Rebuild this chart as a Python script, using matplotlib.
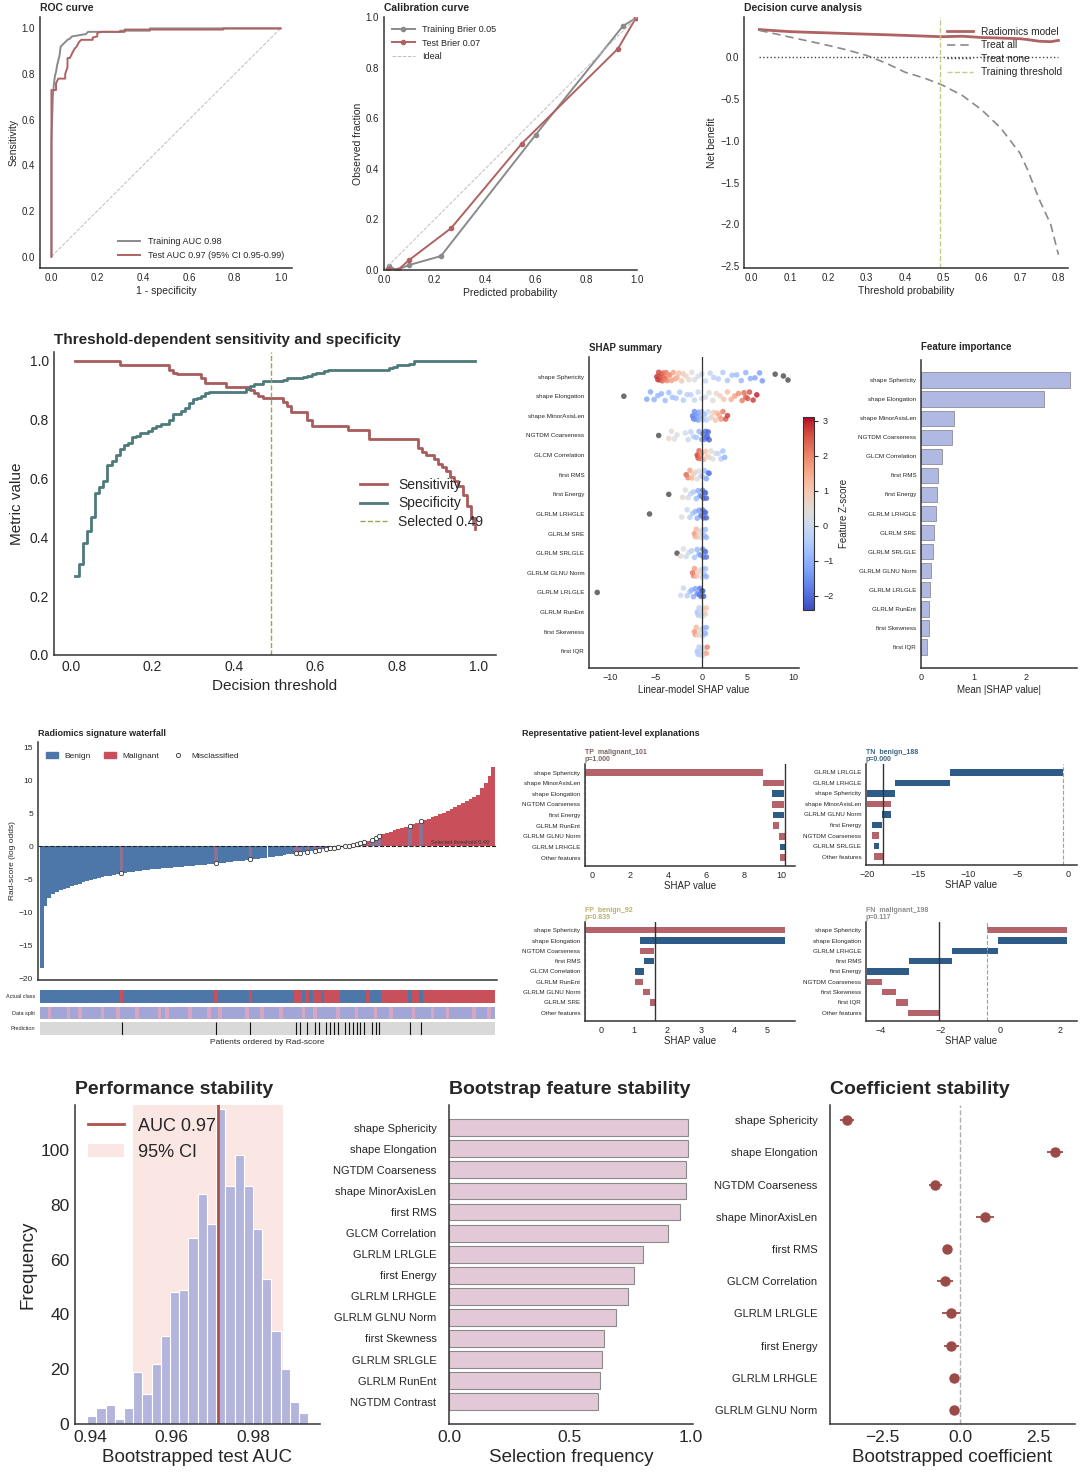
import numpy as np
import matplotlib
matplotlib.use("Agg")
import matplotlib.pyplot as plt
from matplotlib.colors import ListedColormap, Normalize
from matplotlib.patches import Patch
from matplotlib.lines import Line2D
from matplotlib.cm import ScalarMappable

plt.rcParams['font.family'] = ['Liberation Sans', 'DejaVu Sans']
plt.rcParams['axes.spines.top'] = False
plt.rcParams['axes.spines.right'] = False
plt.rcParams['xtick.major.size'] = 0
plt.rcParams['ytick.major.size'] = 0
plt.rcParams['axes.edgecolor'] = '#333333'
plt.rcParams['axes.linewidth'] = 1.1
plt.rcParams['text.color'] = '#262626'
plt.rcParams['xtick.color'] = '#262626'
plt.rcParams['ytick.color'] = '#262626'
plt.rcParams['axes.labelcolor'] = '#262626'

RED = "#b06262"
GREY = "#8a8a8a"
TEAL = "#4e7a7a"
WF_BLUE = "#4d77a8"
WF_RED = "#c9505a"
WF_MIX = "#8a7396"
PB_RED = "#b4636b"
PB_BLUE = "#2f5b88"

# ---------------- data ----------------
# ROC
roc_train_fpr = [0, 0, 0.003, 0.006, 0.01, 0.015, 0.02, 0.025, 0.03, 0.035, 0.04, 0.05, 0.06, 0.07, 0.08, 0.09, 0.12, 0.15, 0.16, 0.30, 0.30, 0.43, 0.43, 1.0]
roc_train_tpr = [0, 0.50, 0.60, 0.70, 0.75, 0.79, 0.81, 0.84, 0.86, 0.88, 0.92, 0.93, 0.94, 0.95, 0.955, 0.965, 0.97, 0.975, 0.985, 0.985, 0.99, 0.99, 1.0, 1.0]
roc_test_fpr = [0, 0, 0.02, 0.02, 0.03, 0.06, 0.06, 0.07, 0.07, 0.08, 0.09, 0.10, 0.11, 0.12, 0.13, 0.18, 0.18, 0.20, 0.20, 0.22, 0.32, 0.32, 0.75, 0.75, 1.0]
roc_test_tpr = [0, 0.73, 0.73, 0.76, 0.78, 0.78, 0.80, 0.83, 0.87, 0.87, 0.89, 0.91, 0.92, 0.94, 0.95, 0.95, 0.96, 0.965, 0.98, 0.985, 0.985, 0.995, 0.995, 1.0, 1.0]

# calibration
cal_train_pred = [0.02, 0.05, 0.10, 0.225, 0.60, 0.945, 0.995]
cal_train_obs = [0.015, 0.0, 0.02, 0.055, 0.535, 0.965, 0.995]
cal_test_pred = [0.015, 0.055, 0.10, 0.265, 0.545, 0.925, 0.995]
cal_test_obs = [0.005, 0.0, 0.04, 0.165, 0.50, 0.875, 0.995]

# decision curve
dca_pt = [0.02, 0.05, 0.10, 0.15, 0.20, 0.25, 0.30, 0.35, 0.40, 0.45, 0.49, 0.50, 0.55, 0.60, 0.65, 0.70, 0.72, 0.75, 0.78, 0.80]
dca_model = [0.33, 0.32, 0.305, 0.297, 0.29, 0.282, 0.275, 0.268, 0.26, 0.252, 0.245, 0.245, 0.25, 0.235, 0.228, 0.22, 0.21, 0.19, 0.185, 0.20]
dca_all = [0.32, 0.29, 0.24, 0.19, 0.14, 0.085, 0.02, -0.07, -0.18, -0.25, -0.32, -0.34, -0.46, -0.63, -0.85, -1.15, -1.35, -1.70, -2.00, -2.36]
train_threshold = 0.49

# threshold sweep
thresholds = np.arange(1, 100) / 100
sensitivity = ([1.0] * 11 + [0.985] * 12 + [0.97, 0.96] + [0.955] * 6 + [0.94] + [0.925] * 5 + [0.91] * 6
               + [0.90, 0.89, 0.88] + [0.875] * 5 + [0.86, 0.845] + [0.825] * 4 + [0.80] + [0.78] * 9
               + [0.765] * 5 + [0.735] * 12
               + [0.705, 0.69, 0.68, 0.68, 0.665, 0.65, 0.64, 0.625, 0.605, 0.59, 0.575, 0.545, 0.505, 0.465, 0.43])
specificity = ([0.27, 0.31, 0.38, 0.42, 0.47, 0.55, 0.57, 0.59, 0.645, 0.66, 0.68, 0.70, 0.715, 0.72, 0.74, 0.745,
                0.755, 0.755, 0.76, 0.77, 0.78, 0.785, 0.785, 0.80, 0.82, 0.82, 0.83, 0.84, 0.855, 0.87, 0.875, 0.88, 0.89]
               + [0.895] * 9 + [0.905, 0.915, 0.92, 0.92] + [0.93] * 5 + [0.935] + [0.94] * 4
               + [0.945, 0.95, 0.955, 0.96, 0.96, 0.965] + [0.97] * 15 + [0.975, 0.98] + [0.985] * 3 + [0.99] + [1.0] * 16)

# SHAP summary (linear model)
shap_features = ["shape Sphericity", "shape Elongation", "shape MinorAxisLen", "NGTDM Coarseness",
                 "GLCM Correlation", "first RMS", "first Energy", "GLRLM LRHGLE", "GLRLM SRE",
                 "GLRLM SRLGLE", "GLRLM GLNU Norm", "GLRLM LRLGLE", "GLRLM RunEnt", "first Skewness", "first IQR"]
shap_values = [
    [-4.9, -4.8, -4.7, -4.6, -4.5, -4.4, -4.3, -4.2, -4.1, -4.0, -3.9, -3.8, -3.6, -3.5, -3.3, -3.1, -2.9, -2.7,
     -2.5, -2.2, -2.0, -1.7, -1.4, -1.1, -0.8, -0.4, 0.0, 0.4, 0.9, 1.3, 1.8, 2.3, 2.8, 3.3, 3.8, 4.3, 4.8,
     5.3, 5.8, 6.3, 6.6, 8.0, 8.9, 9.4],
    [-8.5, -6.0, -5.6, -5.2, -4.8, -4.4, -4.0, -3.6, -3.2, -2.8, -2.4, -2.0, -1.6, -1.2, -0.8, -0.4, 0.0, 0.4,
     0.8, 1.2, 1.6, 2.0, 2.4, 2.8, 3.2, 3.6, 4.0, 4.4, 4.6, 4.8, 5.0, 5.2, 5.6, 6.0],
    [-1.0, -0.9, -0.8, -0.7, -0.6, -0.5, -0.4, -0.3, -0.2, -0.1, 0.0, 0.1, 0.2, 0.3, 0.5, 0.7, 0.9, 1.1, 1.3,
     1.5, 1.7, 1.9, 2.1, 2.3, 2.6, 2.8],
    [-4.7, -3.6, -3.3, -3.0, -2.7, -1.8, -1.5, -1.2, -0.9, -0.6, -0.3, 0.0, 0.1, 0.2, 0.3, 0.4, 0.5, 0.6, 0.7, 0.8],
    [-0.5, -0.4, -0.3, -0.2, -0.1, 0.0, 0.2, 0.4, 0.6, 0.8, 1.0, 1.2, 1.5, 1.8, 2.1, 2.3, 2.5],
    [-1.7, -1.5, -1.3, -1.1, -0.9, -0.7, -0.5, -0.3, -0.1, 0.1, 0.3, 0.5, 0.7, 0.8],
    [-3.6, -2.1, -1.8, -1.5, -1.2, -0.9, -0.6, -0.4, -0.2, 0.0, 0.1, 0.2, 0.3, 0.4, 0.5],
    [-5.7, -2.2, -1.6, -1.3, -1.0, -0.7, -0.5, -0.3, -0.1, 0.0, 0.1, 0.2, 0.3, 0.4, 0.5],
    [-0.8, -0.7, -0.6, -0.5, -0.3, -0.1, 0.0, 0.1, 0.2, 0.3, 0.4, 0.5],
    [-2.7, -2.3, -2.0, -1.7, -1.4, -1.1, -0.8, -0.5, -0.3, -0.1, 0.1, 0.2, 0.3, 0.4, 0.5],
    [-1.0, -0.9, -0.8, -0.6, -0.4, -0.2, 0.0, 0.1, 0.2, 0.3, 0.4, 0.5],
    [-11.4, -2.3, -2.0, -1.6, -1.3, -1.1, -0.9, -0.7, -0.5, -0.3, -0.2, -0.1, 0.0, 0.1, 0.2],
    [-0.5, -0.4, -0.3, -0.2, -0.1, 0.0, 0.1, 0.2, 0.3, 0.4, 0.5],
    [-0.8, -0.7, -0.6, -0.4, -0.2, 0.0, 0.1, 0.2, 0.3, 0.4, 0.5],
    [-0.5, -0.4, -0.3, -0.2, -0.1, 0.0, 0.1, 0.2, 0.3, 0.5, 0.6],
]
# z-scores outside the colour range (the isolated outliers) are shown in dark grey
shap_zscores = [
    [2.9, 2.8, 2.7, 2.7, 2.6, 2.5, 2.4, 2.3, 2.3, 2.2, 2.1, 2.0, 1.9, 1.8, 1.7, 1.6, 1.5, 1.4, 1.2, 1.0, 0.9,
     0.7, 0.5, 0.35, 0.2, 0.1, 0.0, -0.1, -0.2, -0.3, -0.4, -0.5, -0.6, -0.7, -0.8, -0.9, -1.0, -1.1, -1.2,
     -1.3, -1.4, -2.9, -3.0, -3.1],
    [-3.0, -1.2, -1.1, -1.0, -0.95, -0.9, -0.8, -0.75, -0.7, -0.6, -0.5, -0.45, -0.35, -0.3, -0.2, -0.1, 0.0,
     0.15, 0.3, 0.45, 0.6, 0.8, 1.0, 1.2, 1.4, 1.7, 1.9, 2.1, 2.3, 2.4, 2.5, 2.6, 2.8, 3.0],
    [-1.8, -1.7, -1.6, -1.5, -1.4, -1.3, -1.2, -1.1, -1.0, -0.9, -0.8, -0.7, -0.6, -0.5, -0.3, 0.0, 0.3, 0.6,
     0.9, 1.1, 1.3, 1.5, 1.8, 2.1, 2.5, 2.8],
    [3.5, 0.6, 0.5, 0.3, 0.2, 0.1, 0.0, -0.2, -0.4, -0.6, -0.9, -1.2, -1.4, -1.6, -1.7, -1.8, -1.9, -2.0, -2.1, -2.2],
    [2.8, 2.6, 2.4, 2.2, 2.0, 1.8, 1.4, 1.1, 0.9, 0.7, 0.5, 0.3, 0.1, -0.1, -0.4, -0.6, -1.0],
    [2.4, 2.0, 1.6, 1.3, 1.0, 0.7, 0.4, 0.2, -0.1, -0.4, -0.8, -1.2, -1.6, -1.8],
    [3.5, 0.6, 0.3, 0.1, -0.2, -0.5, -0.8, -1.1, -1.3, -1.6, -1.7, -1.8, -1.9, -2.0, -2.1],
    [3.6, 0.4, 0.0, -0.3, -0.6, -0.9, -1.1, -1.3, -1.5, -1.6, -1.7, -1.8, -1.9, -2.0, -2.1],
    [1.8, 1.6, 1.3, 1.0, 0.6, 0.2, 0.0, -0.2, -0.4, -0.6, -0.8, -1.0],
    [3.4, 0.5, 0.3, 0.1, -0.1, -0.3, -0.6, -0.9, -1.1, -1.3, -1.5, -1.6, -1.7, -1.8, -1.9],
    [2.2, 2.0, 1.7, 1.2, 0.8, 0.4, 0.0, -0.2, -0.4, -0.6, -0.8, -1.0],
    [3.8, 0.0, -0.1, -0.4, -0.7, -0.9, -1.1, -1.3, -1.5, -1.7, -1.8, -1.9, -2.0, -2.1, -2.2],
    [-0.6, -0.5, -0.3, -0.2, 0.0, 0.1, 0.3, 0.5, 0.6, 0.8, 1.0],
    [1.8, 1.6, 1.3, 0.8, 0.4, 0.0, -0.2, -0.4, -0.6, -0.8, -1.0],
    [-0.6, -0.5, -0.4, -0.3, -0.2, -0.1, 0.0, 0.1, 0.2, 1.5, 2.0],
]
mean_abs_shap = [2.84, 2.35, 0.63, 0.60, 0.41, 0.33, 0.31, 0.28, 0.24, 0.22, 0.19, 0.18, 0.16, 0.15, 0.12]

# waterfall of Rad-score (sorted)
rad_scores = [
    -18.5, -9.0, -7.8, -7.2, -6.9, -6.7, -6.5, -6.3, -6.1, -5.9,
    -5.7, -5.5, -5.35, -5.2, -5.05, -4.9, -4.75, -4.6, -4.5, -4.35,
    -4.2, -4.1, -4.0, -3.9, -3.85, -3.75, -3.7, -3.6, -3.55, -3.5,
    -3.45, -3.4, -3.35, -3.3, -3.25, -3.2, -3.15, -3.1, -3.05, -3.0,
    -2.95, -2.9, -2.85, -2.8, -2.75, -2.7, -2.6, -2.55, -2.5, -2.45,
    -2.4, -2.3, -2.25, -2.2, -2.1, -2.0, -1.95, -1.9, -1.8, -1.75,
    -1.7, -1.6, -1.5, -1.45, -1.35, -1.25, -1.2, -1.1, -1.0, -0.95,
    -0.85, -0.75, -0.7, -0.6, -0.5, -0.45, -0.35, -0.3, -0.2, -0.1,
    0.0, 0.1, 0.2, 0.3, 0.45, 0.6, 0.8, 1.0, 1.3, 1.6,
    1.8, 2.0, 2.2, 2.4, 2.6, 2.8, 2.95, 3.1, 3.3, 3.5,
    3.75, 3.95, 4.15, 4.35, 4.6, 4.85, 5.1, 5.35, 5.6, 5.9,
    6.2, 6.5, 6.8, 7.1, 7.4, 7.8, 8.8, 9.6, 10.6, 12.0]
actual_class = ("BBBBBBBBBBBBBBBBBBBB" "BMBBBBBBBBBBBBBBBBBB" "BBBBBBMBBBBBBBBMBBBB"
                "BBBBBBBMMBMBMMBMMMMB" "BBBBBBMBBBMMMMMMMBMM" "BMMMMMMMMMMMMMMMMMMM")
data_split = ("TTVTTTTVTTVTTTTTVTTT" "VTTTTVTTTTTVTVTTTTTV" "TTTTVTTVTTTTTTVTTTVT"
              "TTTVTTTTTVTTVTTTTTVT" "TTTVTTTTVTTTVTTTTTVT" "TTTVTTTVTTTTTTVTTTVT")
selected_threshold = 0.49

# patient-level explanations: (tag, color, features, contributions, base value)
patients = [
    ("TP  malignant_101\np=1.000", "#7d6262",
     ["shape Sphericity", "shape MinorAxisLen", "shape Elongation", "NGTDM Coarseness", "first Energy",
      "GLRLM RunEnt", "GLRLM GLNU Norm", "GLRLM LRHGLE", "Other features"],
     [9.43, 1.1, -0.62, 0.62, -0.58, 0.3, 0.3, -0.25, 0.25], -0.4),
    ("TN  benign_188\np=0.000", "#3d6680",
     ["GLRLM LRLGLE", "GLRLM LRHGLE", "shape Sphericity", "shape MinorAxisLen", "GLRLM GLNU Norm",
      "first Energy", "NGTDM Coarseness", "GLRLM SRLGLE", "Other features"],
     [-11.28, -5.4, -2.86, 2.44, -0.91, -0.97, 0.63, -0.5, 0.93], -0.55),
    ("FP  benign_92\np=0.839", "#b8b26a",
     ["shape Sphericity", "shape Elongation", "NGTDM Coarseness", "first RMS", "GLCM Correlation",
      "GLRLM RunEnt", "GLRLM GLNU Norm", "GLRLM SRE", "Other features"],
     [6.0, -4.36, 0.42, -0.3, -0.27, 0.24, 0.22, 0.14, 0.01], -0.47),
    ("FN  malignant_198\np=0.117", "#8c8c8c",
     ["shape Sphericity", "shape Elongation", "GLRLM LRHGLE", "first RMS", "first Energy",
      "NGTDM Coarseness", "first Skewness", "first IQR", "Other features"],
     [2.66, -2.3, -1.53, -1.42, -1.41, 0.5, 0.46, 0.4, 1.05], -0.44),
]

# bootstrap
boot_auc_counts = [3, 6, 7, 2, 6, 19, 11, 22, 32, 48, 49, 68, 84, 73, 115, 87, 98, 87, 71, 53, 34, 20, 8, 4]
boot_auc_range = (0.9393, 0.9934)
test_auc = 0.9713
auc_ci = (0.9506, 0.9872)

stab_features = ["shape Sphericity", "shape Elongation", "NGTDM Coarseness", "shape MinorAxisLen", "first RMS",
                 "GLCM Correlation", "GLRLM LRLGLE", "first Energy", "GLRLM LRHGLE", "GLRLM GLNU Norm",
                 "first Skewness", "GLRLM SRLGLE", "GLRLM RunEnt", "NGTDM Contrast"]
selection_freq = [0.99, 0.99, 0.98, 0.98, 0.955, 0.905, 0.805, 0.765, 0.74, 0.69, 0.64, 0.635, 0.625, 0.615]

coef_features = stab_features[:10]
coef_mean = [-3.65, 3.05, -0.8, 0.8, -0.43, -0.49, -0.3, -0.29, -0.19, -0.19]
coef_err = [0.22, 0.25, 0.2, 0.3, 0.1, 0.25, 0.28, 0.25, 0.15, 0.1]

# ---------------- figure ----------------
W, H = 1080, 1483
fig = plt.figure(figsize=(W / 100, H / 100), dpi=100)


def box(l, t, r, b):
    return fig.add_axes([l / W, 1 - b / H, (r - l) / W, (b - t) / H])


def small_title(ax, text, size=7.5):
    ax.set_title(text, loc='left', fontweight='bold', fontsize=size, pad=4)


def minus_fmt(fmt):
    return matplotlib.ticker.FuncFormatter(lambda v, p: format(v, fmt).replace('-', '\u2212'))


# ROC
ax = box(40, 17, 292, 268)
ax.plot([0, 1], [0, 1], ls='--', color='#bdbdbd', lw=0.7)
ax.plot(roc_train_fpr, roc_train_tpr, color=GREY, lw=1.4, label='Training AUC 0.98')
ax.plot(roc_test_fpr, roc_test_tpr, color=RED, lw=1.4, label='Test AUC 0.97 (95% CI 0.95-0.99)')
ax.set_xlim(-0.05, 1.05)
ax.set_ylim(-0.05, 1.05)
ax.set_xticks(np.arange(0, 1.01, 0.2))
ax.set_yticks(np.arange(0, 1.01, 0.2))
ax.tick_params(labelsize=7)
ax.set_xlabel('1 - specificity', fontsize=7.5, labelpad=2)
ax.set_ylabel('Sensitivity', fontsize=7.5, labelpad=2)
small_title(ax, 'ROC curve')
ax.legend(loc='lower right', fontsize=6.5, frameon=False, handlelength=2.5)

# calibration
ax = box(384, 17, 637, 270)
ax.plot(cal_train_pred, cal_train_obs, color=GREY, lw=1.4, marker='o', ms=3, label='Training Brier 0.05')
ax.plot(cal_test_pred, cal_test_obs, color=RED, lw=1.4, marker='o', ms=3, label='Test Brier 0.07')
ax.plot([0, 1], [0, 1], ls='--', color='#bdbdbd', lw=0.7, label='Ideal')
ax.set_xlim(0, 1.0)
ax.set_ylim(0, 1.0)
ax.set_xticks(np.arange(0, 1.01, 0.2))
ax.set_yticks(np.arange(0, 1.01, 0.2))
ax.tick_params(labelsize=7)
ax.set_xlabel('Predicted probability', fontsize=7.5, labelpad=2)
ax.set_ylabel('Observed fraction', fontsize=7.5, labelpad=2)
small_title(ax, 'Calibration curve')
ax.legend(loc='upper left', fontsize=6.5, frameon=False, handlelength=2.5)

# decision curve
ax = box(744, 17, 1068, 268)
ax.plot(dca_pt, dca_model, color=RED, lw=2.0, label='Radiomics model')
ax.plot(dca_pt, dca_all, color=GREY, lw=1.2, ls=(0, (5, 3)), label='Treat all')
ax.plot([dca_pt[0], dca_pt[-1]], [0, 0], color='#444444', lw=1.0, ls=':', label='Treat none')
ax.axvline(train_threshold, color='#c9c98a', lw=1.0, ls='--', label='Training threshold')
ax.set_xlim(-0.02, 0.825)
ax.set_ylim(-2.52, 0.48)
ax.set_xticks(np.arange(0, 0.81, 0.1))
ax.set_yticks([0.0, -0.5, -1.0, -1.5, -2.0, -2.5])
ax.yaxis.set_major_formatter(minus_fmt('.1f'))
ax.tick_params(labelsize=7)
ax.set_xlabel('Threshold probability', fontsize=7.5, labelpad=2)
ax.set_ylabel('Net benefit', fontsize=7.5, labelpad=2)
small_title(ax, 'Decision curve analysis')
ax.legend(loc='upper right', fontsize=7.3, frameon=False, handlelength=2.5, borderaxespad=0.2,
          labelspacing=0.35, bbox_to_anchor=(1.0, 0.985))

# threshold sweep
ax = box(54, 352, 496, 655)
ax.plot(thresholds, sensitivity, color='#a85c5c', lw=2.0, label='Sensitivity', drawstyle='steps-post')
ax.plot(thresholds, specificity, color=TEAL, lw=2.0, label='Specificity', drawstyle='steps-post')
ax.axvline(selected_threshold, color='#9aa655', lw=1.0, ls='--', label='Selected 0.49')
ax.set_xlim(-0.041, 1.042)
ax.set_ylim(0, 1.03)
ax.set_xticks(np.arange(0, 1.01, 0.2))
ax.set_yticks(np.arange(0, 1.01, 0.2))
ax.tick_params(labelsize=10)
ax.set_xlabel('Decision threshold', fontsize=11, labelpad=4)
ax.set_ylabel('Metric value', fontsize=11, labelpad=4)
ax.set_title('Threshold-dependent sensitivity and specificity', loc='left', fontweight='bold', fontsize=11, pad=6)
ax.legend(loc='center right', bbox_to_anchor=(1.0, 0.5), fontsize=10, frameon=False, handlelength=2.0,
          labelspacing=0.3)

# SHAP summary
ax = box(589, 357, 799, 668)
norm = Normalize(vmin=-2.4, vmax=3.1)
cmap = plt.get_cmap('coolwarm').with_extremes(over='#4a4a4a', under='#4a4a4a')
for i, (sv, zv) in enumerate(zip(shap_values, shap_zscores)):
    k = np.arange(len(sv))
    jitter = 0.22 * np.sin(k * 2.39)
    ax.scatter(sv, i + jitter, c=zv, cmap=cmap, norm=norm, s=16, alpha=0.8, linewidths=0)
ax.axvline(0, color='#333333', lw=0.9)
ax.set_yticks(range(len(shap_features)))
ax.set_yticklabels(shap_features, fontsize=4.5)
ax.set_ylim(14.85, -1.0)
ax.set_xlim(-12.3, 10.6)
ax.set_xticks([-10, -5, 0, 5, 10])
ax.xaxis.set_major_formatter(minus_fmt('.0f'))
ax.tick_params(axis='x', labelsize=6.5)
ax.set_xlabel('Linear-model SHAP value', fontsize=7, labelpad=2)
small_title(ax, 'SHAP summary', 7)
cax = box(803, 417, 814, 610)
cb = fig.colorbar(ScalarMappable(norm=norm, cmap=plt.get_cmap('coolwarm')), cax=cax)
cb.set_ticks([-2, -1, 0, 1, 2, 3])
cb.ax.tick_params(labelsize=6.5, length=3)
cb.set_label('Feature Z-score', fontsize=7)
cb.outline.set_linewidth(0.8)

# feature importance
ax = box(921, 360, 1077, 668)
ax.barh(range(len(shap_features)), mean_abs_shap, height=0.8, color='#b0b9e2', edgecolor='#8c8c9c', lw=0.6)
ax.set_yticks(range(len(shap_features)))
ax.set_yticklabels(shap_features, fontsize=4.5)
ax.set_ylim(15.1, -1.05)
ax.set_xlim(0, 2.98)
ax.set_xticks([0, 1, 2])
ax.tick_params(axis='x', labelsize=6.5)
ax.set_xlabel('Mean |SHAP value|', fontsize=7, labelpad=2)
ax.set_title('Feature importance', loc='left', fontweight='bold', fontsize=7, pad=7)

# waterfall
scores = np.array(rad_scores)
n = len(scores)
idx = np.arange(n)
cls = np.array([1 if c == 'M' else 0 for c in actual_class])
thr_logit = np.log(selected_threshold / (1 - selected_threshold))
pred = (scores >= thr_logit).astype(int)
mis = pred != cls
bar_colors = [WF_MIX if m else (WF_RED if c else WF_BLUE) for c, m in zip(cls, mis)]
ax = box(38, 742, 497, 980)
ax.bar(idx, scores, width=1.0, color=bar_colors, edgecolor='none', linewidth=0)
ax.scatter(idx[mis], scores[mis], s=10, facecolor='white', edgecolor='#333333', linewidths=0.6, zorder=3)
ax.axhline(thr_logit, color='#222222', lw=0.8, ls='--')
ax.text(n - 2, thr_logit + 0.15, 'Selected threshold 0.49', fontsize=4, ha='right', va='bottom', color='#333333')
ax.set_xlim(-1.0, n)
ax.set_ylim(-20.3, 15.8)
ax.set_xticks([])
ax.set_yticks(np.arange(-20, 16, 5))
ax.yaxis.set_major_formatter(minus_fmt('.0f'))
ax.tick_params(labelsize=6)
ax.set_ylabel('Rad-score (log odds)', fontsize=6, labelpad=2)
ax.set_title('Radiomics signature waterfall', loc='left', fontweight='bold', fontsize=6.5, pad=4)
handles = [Patch(color=WF_BLUE, label='Benign'), Patch(color=WF_RED, label='Malignant'),
           Line2D([], [], ls='none', marker='o', ms=3, mfc='white', mec='#333333', mew=0.6, label='Misclassified')]
ax.legend(handles=handles, loc='upper left', ncol=3, fontsize=6, frameon=False, handlelength=1.5,
          columnspacing=1.5, bbox_to_anchor=(0.0, 0.99))

strips = [(990, 1003, 'Actual class'), (1007, 1019, 'Data split'), (1022, 1035, 'Prediction')]
for t, b, lab in strips:
    sa = box(40, t, 495, b)
    if lab == 'Actual class':
        sa.imshow(cls[None, :], cmap=ListedColormap([WF_BLUE, WF_RED]), aspect='auto', interpolation='bilinear',
                  extent=(-0.5, n - 0.5, 0, 1))
    elif lab == 'Data split':
        split = np.array([1 if c == 'V' else 0 for c in data_split])
        sa.imshow(split[None, :], cmap=ListedColormap(['#a2a6d6', '#d8a6c2']), aspect='auto',
                  interpolation='nearest', extent=(-0.5, n - 0.5, 0, 1))
    else:
        sa.set_facecolor('#d9d9d9')
        sa.vlines(idx[mis], 0, 1, color='#111111', lw=0.8)
    sa.set_xlim(-0.5, n - 0.5)
    sa.set_ylim(0, 1)
    sa.set_xticks([])
    sa.set_yticks([0.5])
    sa.set_yticklabels([lab], fontsize=4)
    for s in sa.spines.values():
        s.set_visible(False)
sa.set_xlabel('Patients ordered by Rad-score', fontsize=6, labelpad=3)

# patient-level explanations
fig.text(522 / W, 1 - 733 / H, 'Representative patient-level explanations', fontsize=6.5, fontweight='bold',
         va='center', ha='left')
panel_boxes = [(585, 764, 795, 866, -0.4, 10.7, [0, 2, 4, 6, 8, 10]),
               (866, 764, 1077, 865, -20.15, 0.87, [-20, -15, -10, -5, 0]),
               (585, 922, 795, 1021, -0.47, 5.82, [0, 1, 2, 3, 4, 5]),
               (866, 922, 1077, 1021, -4.48, 2.56, [-4, -2, 0, 2])]
for (tag, tcol, feats, contrib, base), (l, t, r, b, x0, x1, xt) in zip(patients, panel_boxes):
    ax = box(l, t, r, b)
    contrib = np.array(contrib)
    starts = base + np.concatenate([[0], np.cumsum(contrib)[:-1]])
    ax.barh(range(len(feats)), contrib, left=starts, height=0.62,
            color=[PB_RED if c > 0 else PB_BLUE for c in contrib])
    ax.axvline(base + contrib.sum(), color='#333333', lw=1.0)
    ax.axvline(base, color='#a0a0a0', lw=0.8, ls='--')
    ax.set_yticks(range(len(feats)))
    ax.set_yticklabels(feats, fontsize=4.5)
    ax.set_ylim(len(feats) - 0.2, -0.8)
    ax.set_xlim(x0, x1)
    ax.set_xticks(xt)
    ax.xaxis.set_major_formatter(minus_fmt('.0f'))
    ax.tick_params(axis='x', labelsize=6.5)
    ax.set_xlabel('SHAP value', fontsize=7, labelpad=1)
    ax.set_title(tag, loc='left', fontsize=5, fontweight='bold', color=tcol, pad=2, linespacing=1.1)

# performance stability
ax = box(75, 1105, 320, 1424)
edges = np.linspace(boot_auc_range[0], boot_auc_range[1], len(boot_auc_counts) + 1)
ax.axvspan(auc_ci[0], auc_ci[1], color='#f8ddd8', alpha=0.7, lw=0, label='95% CI')
ax.bar(edges[:-1], boot_auc_counts, width=np.diff(edges), align='edge', color='#b3b5dc', edgecolor='white', lw=0.8)
ax.axvline(test_auc, color='#b0524c', lw=2.0, label='AUC 0.97')
ax.set_xlim(0.9363, 0.9963)
ax.set_ylim(0, 116.4)
ax.set_xticks([0.94, 0.96, 0.98])
ax.set_yticks([0, 20, 40, 60, 80, 100])
ax.tick_params(labelsize=12.5, pad=4)
ax.set_xlabel('Bootstrapped test AUC', fontsize=13.5, labelpad=3)
ax.set_ylabel('Frequency', fontsize=13.5, labelpad=3)
ax.set_title('Performance stability', loc='left', fontweight='bold', fontsize=14, pad=8)
h, lb = ax.get_legend_handles_labels()
ax.legend([h[1], h[0]], [lb[1], lb[0]], loc='upper left', fontsize=13, frameon=False, handlelength=2.0,
          borderaxespad=0.3)

# bootstrap feature stability
ax = box(449, 1105, 693, 1424)
ax.barh(range(len(stab_features)), selection_freq, height=0.8, color='#e3c9d7', edgecolor='#8a8a8a', lw=0.8)
ax.set_yticks(range(len(stab_features)))
ax.set_yticklabels(stab_features, fontsize=8)
ax.set_ylim(14.06, -1.08)
ax.set_xlim(0, 1.01)
ax.set_xticks([0.0, 0.5, 1.0])
ax.tick_params(axis='x', labelsize=12.5, pad=4)
ax.tick_params(axis='y', pad=9)
ax.set_xlabel('Selection frequency', fontsize=13.5, labelpad=3)
ax.set_title('Bootstrap feature stability', loc='left', fontweight='bold', fontsize=14, pad=8)

# coefficient stability
ax = box(830, 1105, 1075, 1424)
ax.axvline(0, color='#b0b0b0', lw=1.0, ls='--')
ax.errorbar(coef_mean, range(len(coef_features)), xerr=coef_err, fmt='o', color='#9c4a47', ms=6.5,
            elinewidth=1.3, capsize=0)
ax.set_yticks(range(len(coef_features)))
ax.set_yticklabels(coef_features, fontsize=8)
ax.set_ylim(9.43, -0.47)
ax.set_xlim(-4.2, 3.7)
ax.set_xticks([-2.5, 0.0, 2.5])
ax.xaxis.set_major_formatter(minus_fmt('.1f'))
ax.tick_params(axis='x', labelsize=12.5, pad=4)
ax.tick_params(axis='y', pad=9)
ax.set_xlabel('Bootstrapped coefficient', fontsize=13.5, labelpad=3)
ax.set_title('Coefficient stability', loc='left', fontweight='bold', fontsize=14, pad=8)

fig.savefig('out.png', dpi=100)
